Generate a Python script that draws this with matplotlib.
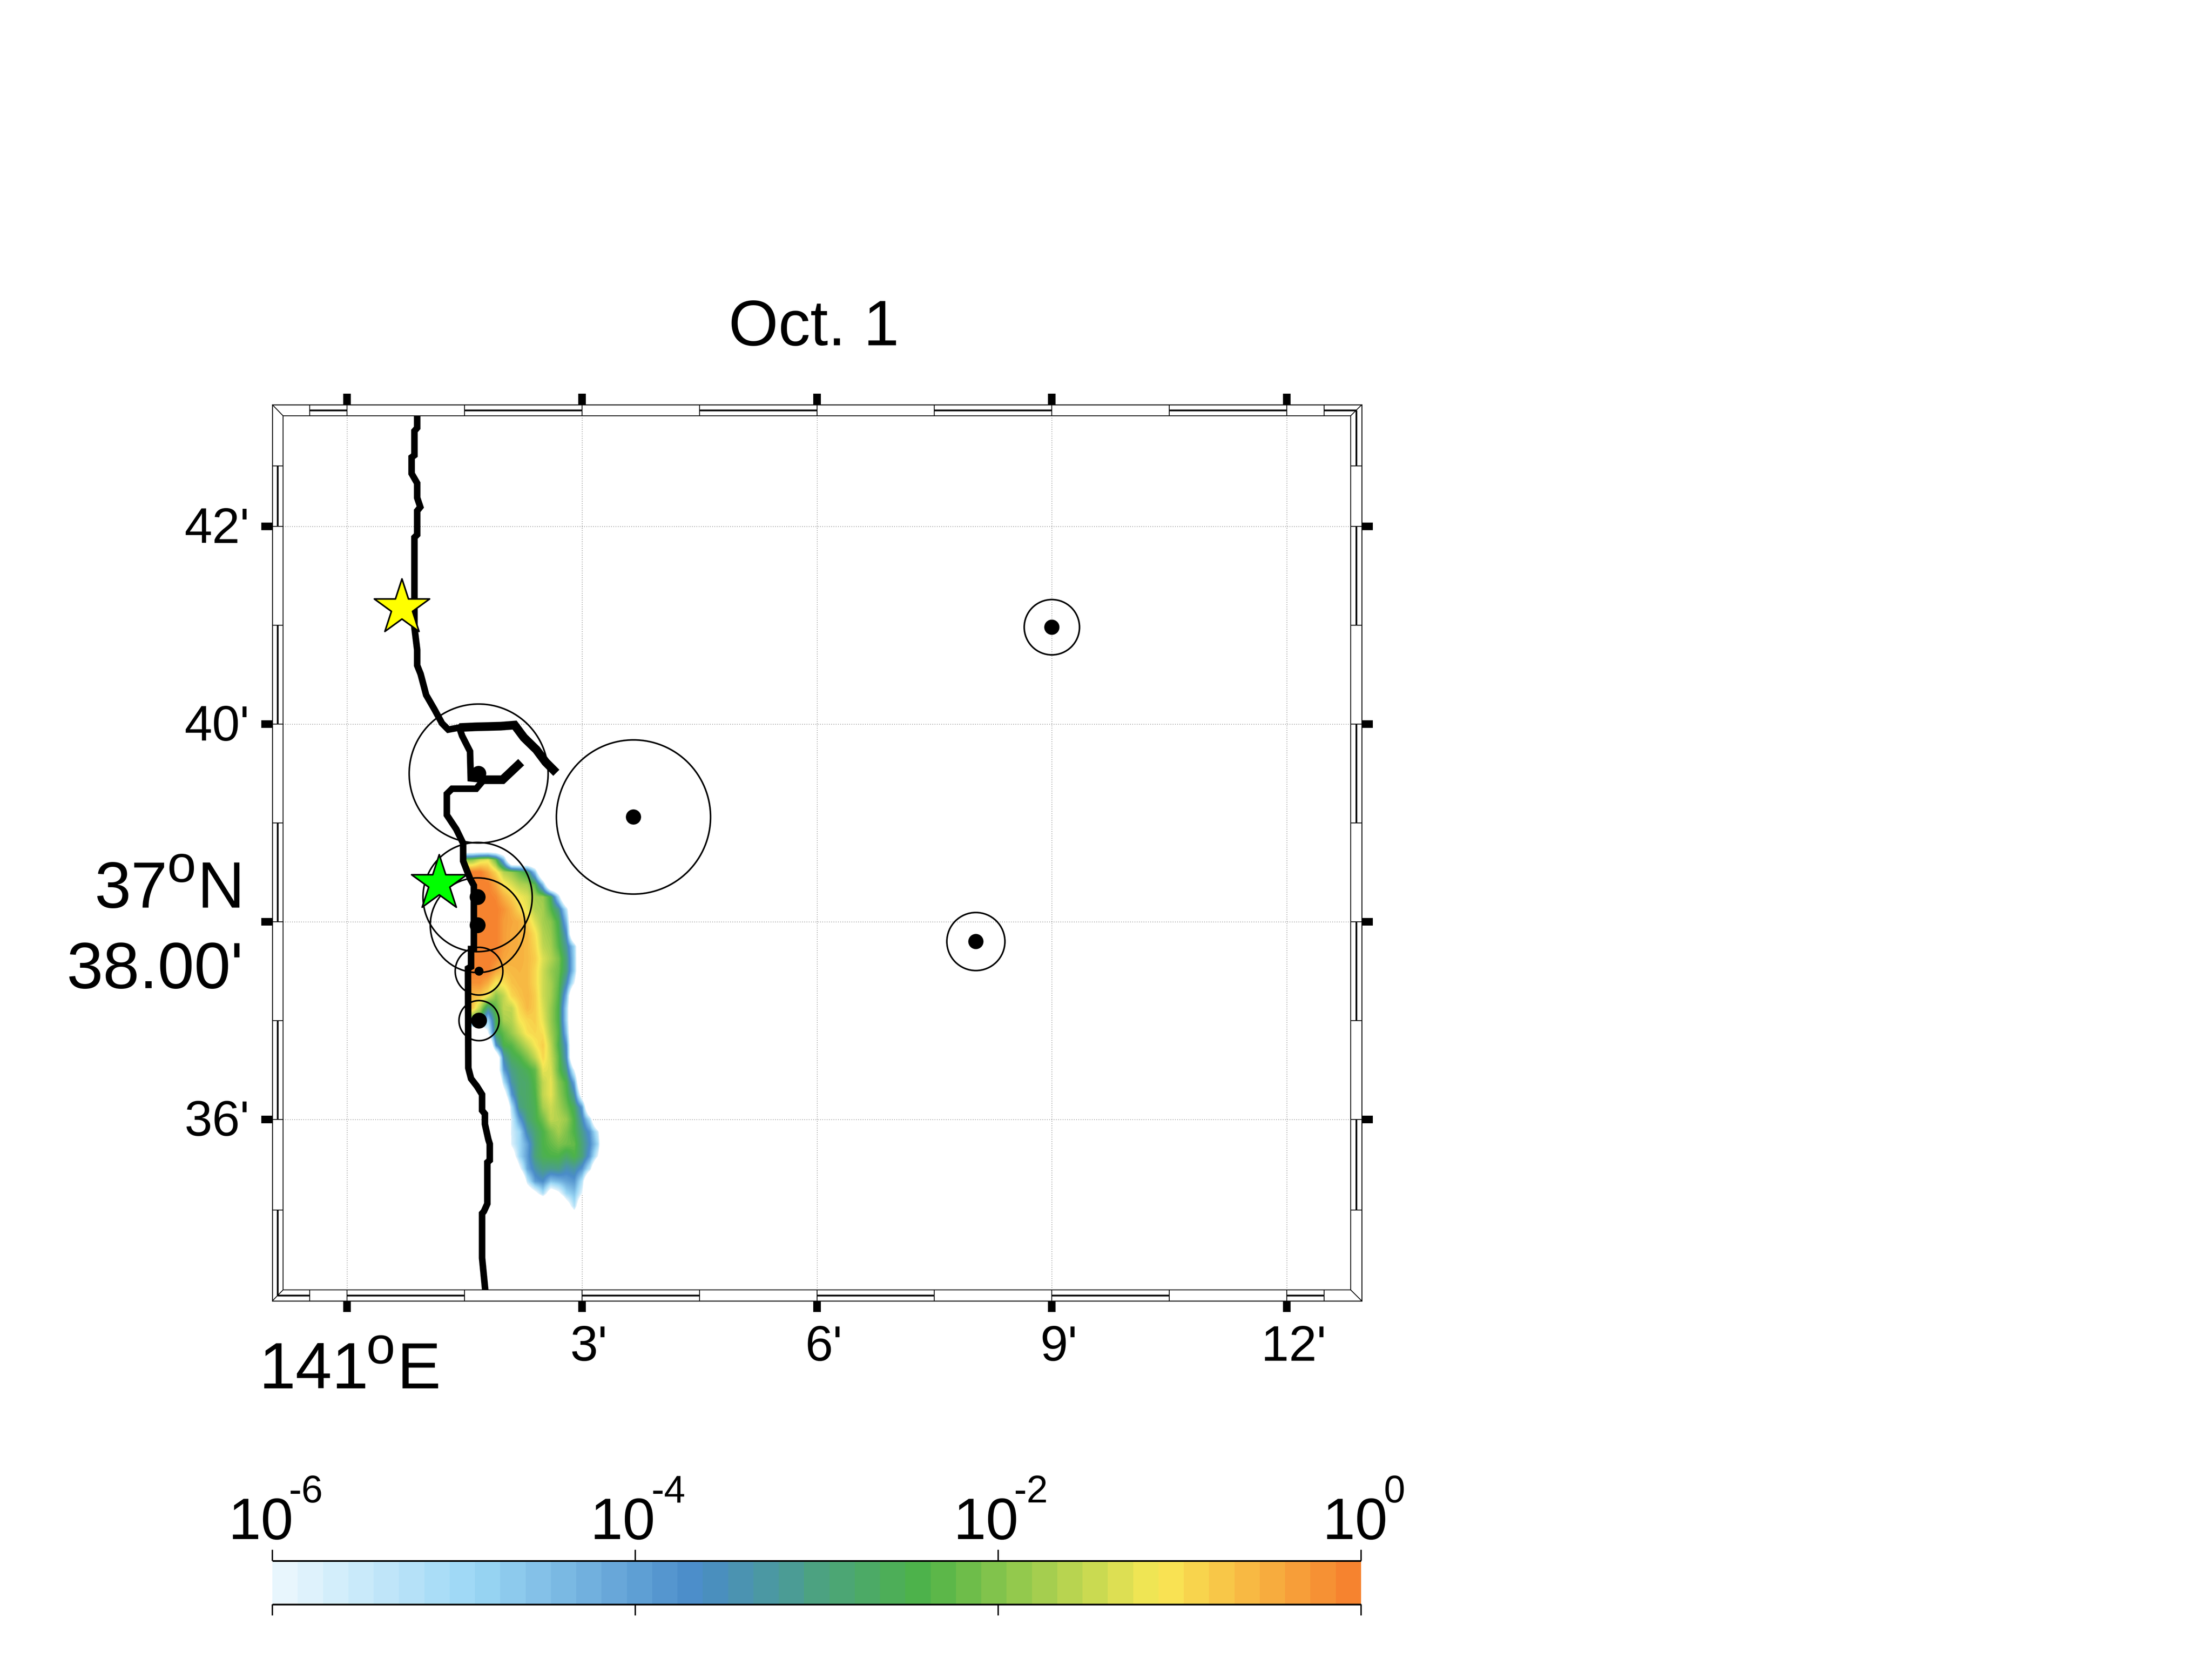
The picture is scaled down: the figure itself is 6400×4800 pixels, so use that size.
import matplotlib
matplotlib.use("Agg")
import matplotlib.pyplot as plt
import numpy as np
from matplotlib.colors import LinearSegmentedColormap, ListedColormap, Normalize
from matplotlib.cm import ScalarMappable
from matplotlib.path import Path
from matplotlib.patches import PathPatch
from matplotlib.transforms import ScaledTranslation

plt.rcParams['font.family'] = ['Liberation Sans', 'DejaVu Sans']

# ---- data (longitude: arc-minutes east of 141E, latitude: arc-minutes north of 37N) ----
x_ticks = [0, 3, 6, 9, 12]
x_tick_labels = ['', "3'", "6'", "9'", "12'"]
y_ticks = [36, 38, 40, 42]
y_tick_labels = ["36'", '', "40'", "42'"]

coast_lon = [.896, .896, .861, .861, .825, .825, .896, .896, .936, .896, .896, .861, .861, .896, .896, .940,
             1.011, 1.116, 1.214, 1.293, 1.434, 1.470, 1.571, 1.580, 1.748, 1.650, 1.342, 1.275, 1.275, 1.395,
             1.483, 1.483, 1.571, 1.620, 1.620, 1.584, 1.584, 1.545, 1.549, 1.584, 1.659, 1.725, 1.725, 1.761,
             1.761, 1.805, 1.823, 1.823, 1.792, 1.792, 1.748, 1.725, 1.725, 1.765]
coast_lat = [43.119, 42.997, 42.965, 42.720, 42.699, 42.535, 42.437, 42.290, 42.196, 42.157, 41.916, 41.888,
             40.979, 40.752, 40.594, 40.507, 40.294, 40.150, 40.007, 39.944, 39.965, 39.881, 39.724, 39.451,
             39.437, 39.346, 39.346, 39.294, 39.080, 38.937, 38.794, 38.615, 38.437, 38.367, 37.724, 37.724,
             37.545, 37.528, 36.521, 36.413, 36.336, 36.252, 36.091, 36.056, 35.953, 35.797, 35.752, 35.587,
             35.566, 35.147, 35.070, 35.049, 34.598, 34.276]
pier_east_lon = [1.434, 1.628, 1.963, 2.140, 2.259, 2.418, 2.537, 2.673]
pier_east_lat = [39.965, 39.972, 39.979, 39.990, 39.864, 39.741, 39.615, 39.507]
pier_south_lon = [1.748, 1.986, 2.224]
pier_south_lat = [39.437, 39.437, 39.615]

station_lon = [1.681, 3.658, 1.668, 1.668, 1.686, 1.686, 9.0, 8.03]
station_lat = [39.50, 39.06, 38.25, 37.965, 37.50, 37.00, 40.98, 37.80]
circle_radius = [201, 223, 158, 137, 69, 58, 80, 84]
dot_radius = [22, 22, 23, 23, 13, 23, 22, 22]

star_lon = [0.702, 1.178]
star_lat = [41.175, 38.385]
star_colors = ['#ffff00', '#00ff00']

plume_lon = [1.5, 1.6, 1.7, 1.8, 1.9, 2.0, 2.1, 2.2, 2.3, 2.4, 2.5, 2.6, 2.7, 2.8, 2.9, 3.0, 3.1, 3.2, 3.3]
plume_lat = [38.75 - 0.125 * i for i in range(31)]
plume_log10 = [
    [-9],
    [-2, -1.9, -1.4, -1.2, -2.2, -4.5],
    [0, 0, 0, -.4, -.9, -1.6, -1.8, -2.2, -2.6, -4.8],
    [0, 0, 0, 0, -.4, -1, -1.3, -1.6, -1.7, -2.3, -4.6],
    [0, 0, 0, 0, -.1, -.5, -.8, -1.1, -1.3, -1.7, -1.8, -2.5, -5.3],
    [0, 0, 0, 0, 0, -.2, -.5, -.9, -1.2, -1.6, -1.7, -2.3, -3.1, -5.4],
    [0, 0, 0, 0, 0, -.3, -.4, -.5, -.8, -1.3, -1.7, -1.9, -2.5, -4.5],
    [0, 0, 0, 0, 0, -.3, -.45, -.5, -.6, -1, -1.6, -1.8, -2.4, -3.7],
    [0, 0, 0, 0, 0, -.3, -.45, -.5, -.6, -.9, -1.5, -1.7, -2.3, -3.2, -5],
    [0, 0, 0, 0, -.1, -.4, -.5, -.5, -.6, -.8, -1.3, -1.6, -2, -2.9, -4.9],
    [0, 0, 0, 0, -.4, -.7, -.6, -.55, -.6, -.9, -1.4, -1.8, -2.1, -2.9, -4.9],
    [-.2, -.2, -.2, -.5, -1.1, -1, -.7, -.6, -.6, -.9, -1.4, -1.7, -2.2, -3.5, -6],
    [-.6, -.6, -.7, -1.1, -1.9, -1.5, -.9, -.7, -.55, -.8, -1.4, -1.7, -2.3, -4.4],
    [-.7, -.7, -1.6, -3, -2.2, -1.5, -1.5, -.9, -.6, -.8, -1.3, -1.8, -2.4, -5],
    [-2.5, -2.5, -2.5, -5, -2.5, -1.7, -1.6, -1.1, -.9, -.8, -1.2, -1.8, -2.4, -5],
    [-9, -9, -9, -6, -2.6, -2.2, -1.8, -1.4, -1, -.9, -1, -1.7, -2.3, -4.6],
    [-9, -9, -9, -9, -3.8, -2.4, -2.3, -1.9, -1.5, -1.1, -.8, -1.5, -2.4, -3.8],
    [-9, -9, -9, -9, -8, -3.4, -2.6, -2.4, -2, -1.5, -.9, -1.4, -2.2, -3.6],
    [-9, -9, -9, -9, -7.5, -4, -3, -2.7, -2.5, -2.2, -1.2, -1.3, -2.2, -3, -6],
    [-9, -9, -9, -9, -9, -5.2, -3.3, -2.8, -2.7, -2.3, -1.5, -1.2, -1.9, -2.4, -4.2],
    [-9, -9, -9, -9, -9, -7, -3.9, -2.8, -2.7, -2.4, -1.5, -1.2, -1.8, -2.3, -3.3, -7],
    [-9, -9, -9, -9, -9, -9, -5.2, -3, -2.7, -2.5, -1.7, -1.4, -1.7, -2.1, -2.6, -4],
    [-9, -9, -9, -9, -9, -9, -5.7, -4, -2.9, -2.5, -2.1, -1.5, -1.6, -1.8, -2.4, -3.5, -5.2],
    [-9, -9, -9, -9, -9, -9, -5.7, -5, -3.4, -2.8, -2.4, -2, -1.7, -2, -2.4, -3.1, -3.9, -5.6],
    [-9, -9, -9, -9, -9, -9, -5.8, -5, -4.1, -2.9, -2.4, -2.2, -2, -2.1, -2.2, -2.9, -3.7, -5],
    [-9, -9, -9, -9, -9, -9, -7, -5, -4, -2.9, -2.5, -2.4, -2.4, -2.7, -2.4, -2.9, -4, -6],
    [-9, -9, -9, -9, -9, -9, -9, -6.3, -4.2, -3.4, -3, -3.1, -3, -3.5, -3.3, -3.9, -5.5],
    [-9, -9, -9, -9, -9, -9, -9, -9, -5.5, -4, -3.7, -4.6, -4.4, -4.1, -3.9, -5.3],
    [-9, -9, -9, -9, -9, -9, -9, -9, -7.5, -6.5, -5.2, -7, -6.3, -5, -4.6, -6],
    [-9, -9, -9, -9, -9, -9, -9, -9, -9, -9, -9, -9, -9, -7, -5.2, -8],
    [-9, -9, -9, -9, -9, -9, -9, -9, -9, -9, -9, -9, -9, -9, -7.5],
]

cmap_pos = [0.0, 0.176, 0.381, 0.605, 0.824, 1.0]
cmap_col = ['#e8f6fd', '#9bd7f5', '#4a8cc9', '#4db348', '#f9e855', '#f6832f']
cbar_ticks = [-6, -4, -2, 0]

# ---- frame geometry in map units ----
outer_x = (-0.953, 12.957)
outer_y = (34.164, 43.231)
inner_x = (-0.816, 12.815)
inner_y = (34.276, 43.119)
mid_x = (-0.887, 12.886)
mid_y = (34.220, 43.175)
x_edges = [-0.477, 0, 1.5, 3, 4.5, 6, 7.5, 9, 10.5, 12, 12.477]
y_edges = [35.084, 36, 37, 38, 39, 40, 41, 42, 42.612]

W, H = 6400, 4800
PX = 72 / 400  # points per output pixel


def fx(p):
    return p / W


def fy(p):
    return 1 - p / H


fig = plt.figure(figsize=(16, 12), dpi=400, facecolor='white')
ax = fig.add_axes([fx(788), fy(3764), (3940 - 788) / W, (3764 - 1171) / H])
ax.set_xlim(*outer_x)
ax.set_ylim(*outer_y)
for s in ax.spines.values():
    s.set_linewidth(2.6 * PX)

ax.set_xticks(x_ticks, x_tick_labels)
ax.set_yticks(y_ticks, y_tick_labels)
ax.tick_params(axis='both', direction='out', length=32 * PX, width=22 * PX, top=True, right=True)
ax.tick_params(axis='x', labelsize=26, pad=36 * PX)
ax.tick_params(axis='y', labelsize=26, pad=34 * PX)
for lab in ax.get_xticklabels():
    lab.set_transform(lab.get_transform() + ScaledTranslation(20 * PX / 72, 0, fig.dpi_scale_trans))
for lab in ax.get_yticklabels():
    lab.set_transform(lab.get_transform() + ScaledTranslation(0, 5 * PX / 72, fig.dpi_scale_trans))

# grid limited to the inner frame
grid_kw = dict(color='black', lw=1.3 * PX, ls=(0, (1, 4)), zorder=1)
ax.vlines(x_ticks, *inner_y, **grid_kw)
ax.hlines(y_ticks, *inner_x, **grid_kw)

# frame
thin = dict(color='black', lw=2.4 * PX, zorder=6, solid_capstyle='butt', clip_on=False)
thick = dict(color='black', lw=5 * PX, zorder=6, solid_capstyle='butt', clip_on=False)
ax.plot([inner_x[0], inner_x[1], inner_x[1], inner_x[0], inner_x[0]],
        [inner_y[0], inner_y[0], inner_y[1], inner_y[1], inner_y[0]], **thin)
for i in (0, 1):
    for j in (0, 1):
        ax.plot([outer_x[i], inner_x[i]], [outer_y[j], inner_y[j]], **thin)
for e in x_edges:
    ax.plot([e, e], [inner_y[1], outer_y[1]], **thin)
    ax.plot([e, e], [outer_y[0], inner_y[0]], **thin)
for e in y_edges:
    ax.plot([outer_x[0], inner_x[0]], [e, e], **thin)
    ax.plot([inner_x[1], outer_x[1]], [e, e], **thin)
for a, b in [x_edges[0:2], x_edges[2:4], x_edges[4:6], x_edges[6:8], x_edges[8:10], (x_edges[10], mid_x[1])]:
    ax.plot([a, b], [mid_y[1], mid_y[1]], **thick)
for a, b in [(mid_x[0], x_edges[0]), x_edges[1:3], x_edges[3:5], x_edges[5:7], x_edges[7:9], x_edges[9:11]]:
    ax.plot([a, b], [mid_y[0], mid_y[0]], **thick)
for a, b in [(mid_y[0], y_edges[0]), y_edges[1:3], y_edges[3:5], y_edges[5:7], y_edges[7:9]]:
    ax.plot([mid_x[0], mid_x[0]], [a, b], **thick)
for a, b in [y_edges[0:2], y_edges[2:4], y_edges[4:6], y_edges[6:8], (y_edges[8], mid_y[1])]:
    ax.plot([mid_x[1], mid_x[1]], [a, b], **thick)

# plume
cmap = LinearSegmentedColormap.from_list('plume', list(zip(cmap_pos, cmap_col)), N=86)
cmap.set_under((1, 1, 1, 0))
norm = Normalize(-6, 0)
n_col = len(plume_lon)
grid = np.array([r + [-9] * (n_col - len(r)) for r in plume_log10], dtype=float)
dlon, dlat = 0.05, 0.0625
im = ax.imshow(grid, cmap=cmap, norm=norm, aspect='auto', origin='upper',
               extent=(plume_lon[0] - dlon, plume_lon[-1] + dlon, plume_lat[-1] - dlat, plume_lat[0] + dlat),
               interpolation='bilinear', interpolation_stage='data', zorder=2)
ax.set_xlim(*outer_x)
ax.set_ylim(*outer_y)
# the plume stays on the sea side of the coast
sea_lon = list(coast_lon[29:]) + [6, 6, 1.395]
sea_lat = list(coast_lat[29:]) + [34.276, 38.937, 38.937]
sea = PathPatch(Path(np.column_stack([sea_lon, sea_lat])), transform=ax.transData, fc='none', ec='none')
ax.add_patch(sea)
im.set_clip_path(sea)

# coast
coast_kw = dict(color='black', lw=19 * PX, zorder=3, solid_joinstyle='miter', solid_capstyle='butt')
ax.plot(coast_lon, coast_lat, **coast_kw)
ax.plot(pier_east_lon, pier_east_lat, **{**coast_kw, 'lw': 25 * PX})
ax.plot(pier_south_lon, pier_south_lat, **{**coast_kw, 'lw': 25 * PX})

# stations
r_c = np.array(circle_radius, float)
r_d = np.array(dot_radius, float)
ax.scatter(station_lon, station_lat, s=(2 * r_c * PX) ** 2, facecolors='none', edgecolors='black',
           linewidths=4.6 * PX, zorder=4)
ax.scatter(station_lon, station_lat, s=(2 * r_d * PX) ** 2, c='black', linewidths=0, zorder=4)
ax.scatter(star_lon, star_lat, marker='*', s=917, c=star_colors, edgecolors='black',
           linewidths=4.6 * PX, zorder=5)

# big labels
BIG = 34.2


def label(px, base, text, size=BIG):
    fig.text(fx(px), fy(base), text, fontsize=size, ha='left', va='baseline')


fig.text(fx(2355), fy(999), 'Oct. 1', fontsize=33.3, ha='center', va='baseline')
label(274, 2626, '37')
label(484, 2552, 'o', 27)
label(570, 2626, 'N')
label(193, 2859, "38.00'")
label(750, 4017, '141')
label(1060, 3945, 'o', 27)
label(1148, 4017, 'E')

# colour bar
cax = fig.add_axes([fx(788), fy(4642), (3938 - 788) / W, (4642 - 4516) / H])
cb = fig.colorbar(ScalarMappable(norm=norm, cmap=ListedColormap(cmap(np.linspace(0, 1, 43)))),
                  cax=cax, orientation='horizontal')
cb.outline.set_visible(False)
cb.set_ticks(cbar_ticks)
cax.minorticks_off()
cax.tick_params(axis='x', which='major', direction='out', length=32 * PX, width=4 * PX, top=True, bottom=True,
                labelbottom=False, labeltop=False)
cax.hlines([0, 1], -6, 0, color='black', lw=5 * PX, clip_on=False, zorder=5)
cax.set_xlim(-6, 0)
cax.set_ylim(0, 1)
for left, sup_left, exp in [(660, 835, '-6'), (1707, 1884, '-4'), (2758, 2933, '-2'), (3826, 4004, '0')]:
    label(left, 4453, '10', 30.5)
    label(sup_left, 4347, exp, 20)

fig.savefig('out.png', dpi=400, facecolor='white')
